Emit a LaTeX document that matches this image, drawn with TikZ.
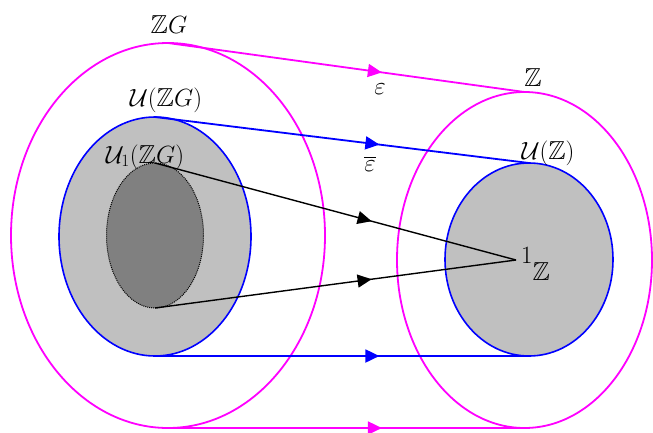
\documentclass[tikz,border=0pt]{standalone}
\usepackage{amssymb}
\usetikzlibrary{shapes.geometric,decorations.markings,arrows.meta}
\definecolor{mag}{RGB}{255,0,255}
\definecolor{lgray}{RGB}{192,192,192}
\definecolor{dgray}{RGB}{128,128,128}
\definecolor{pblue}{RGB}{0,0,255}
\begin{document}
\begin{tikzpicture}[x=1pt,y=-1pt,
  oval/.style={ellipse, inner sep=0pt, outer sep=0pt},
  magoval/.style={oval, draw=mag, line width=1.8pt},
  blueoval/.style={oval, draw=pblue, fill=lgray, line width=1.6pt},
  conn/.style={line width=1.8pt, postaction={decorate},
    decoration={markings, mark=at position 0.6 with {\arrow{Triangle[length=14pt,width=13pt]}}}},
  lab/.style={font=\fontsize{26}{30}\selectfont, inner sep=0pt}]
\useasboundingbox (0,0) rectangle (653,432);
% outer sets
\node[magoval, minimum width=314pt, minimum height=385pt] (ZG) at (168,235.5) {};
\node[magoval, minimum width=255pt, minimum height=336pt] (Z) at (524.5,260) {};
% unit groups
\node[blueoval, minimum width=192pt, minimum height=239pt] (UZG) at (155,236.5) {};
\node[oval, draw=black, fill=dgray, densely dotted, line width=1pt, minimum width=97pt, minimum height=145pt] (U1) at (155,235.5) {};
\node[blueoval, minimum width=168pt, minimum height=193pt] (UZ) at (529,259.5) {};
\coordinate (one) at (516,260);
% connectors
\draw[conn, mag] (ZG.north) -- (Z.north);
\draw[conn, pblue] (UZG.north) -- (UZ.north);
\draw[conn, black, line width=1.4pt] (U1.north) -- (one);
\draw[conn, black, line width=1.4pt] (U1.south) -- (one);
\draw[conn, pblue] (UZG.south) -- (UZ.south);
\draw[conn, mag] (ZG.south) -- (Z.south);
% labels
\node[lab] (lZG) at (169,25) {$\mathbb{Z}G$};
\node[lab] (lUZG) at (166,100) {$\mathcal{U}(\mathbb{Z}G)$};
\node[lab] (lU1) at (145,157) {$\mathcal{U}_1(\mathbb{Z}G)$};
\node[lab] (lZ) at (533,78) {$\mathbb{Z}$};
\node[lab] (lUZ) at (548,153) {$\mathcal{U}(\mathbb{Z})$};
\node[lab] (leps) at (380,89) {$\varepsilon$};
\node[lab] (lepsb) at (370,164) {$\overline{\varepsilon}$};
\node[lab, anchor=base west] (lone) at (521,263) {$1$\raisebox{-17pt}{$\mathbb{Z}$}};
\end{tikzpicture}
\end{document}
